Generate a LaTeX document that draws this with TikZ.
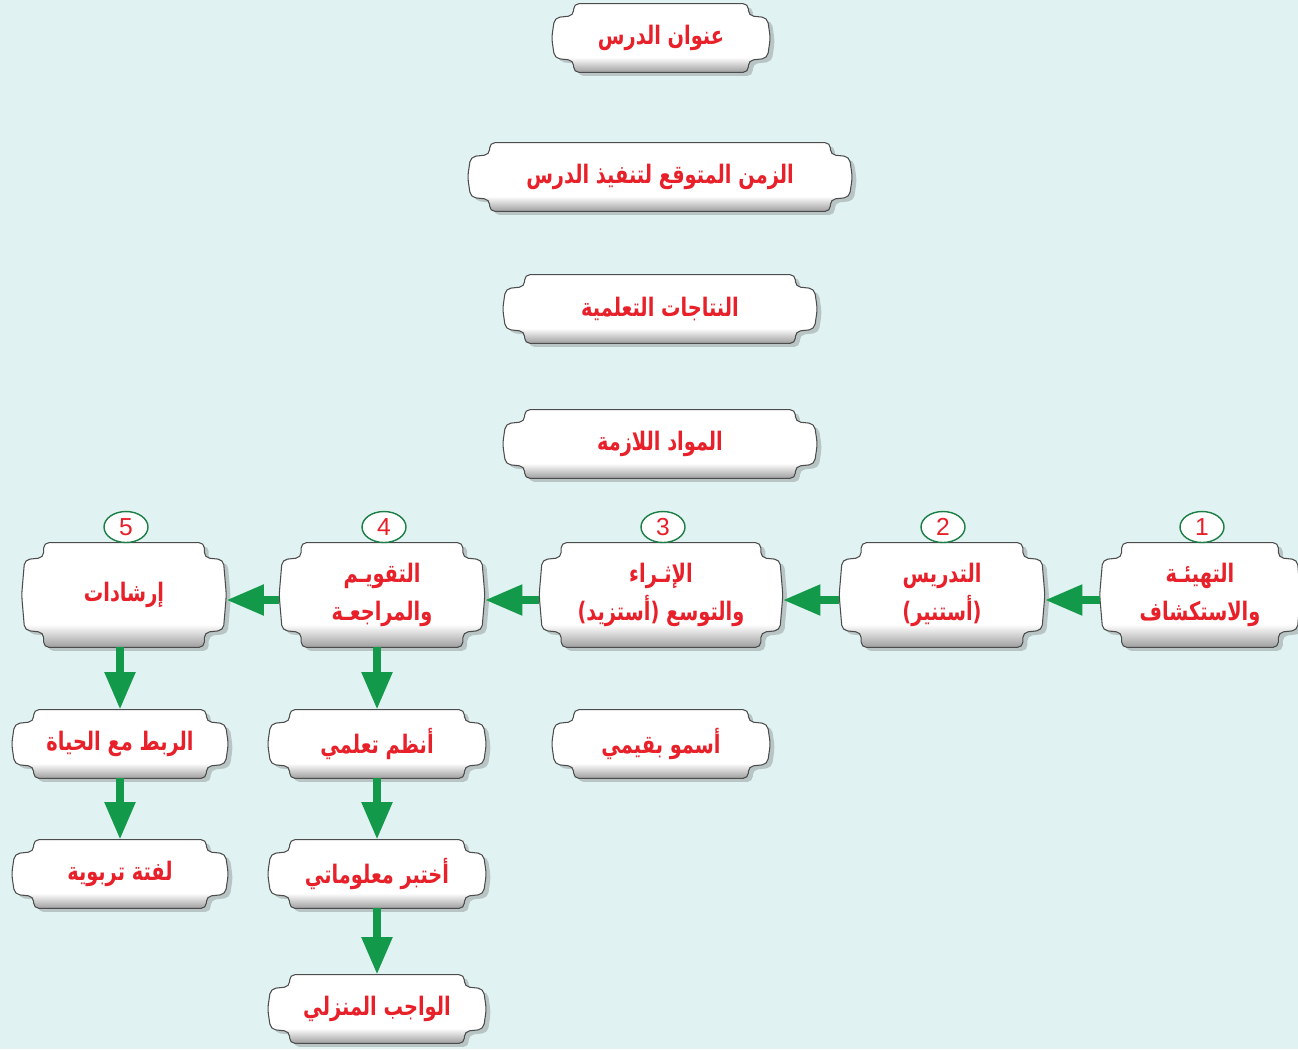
\documentclass[tikz,border=0pt]{standalone}
\usepackage{fontspec}
\usepackage{xcolor}
\usepackage{tikz}
\usetikzlibrary{shapes,arrows.meta,positioning,calc,shadows,backgrounds}
\newfontfamily\arabicfont[Script=Arabic,FakeStretch=0.76]{DejaVu Sans}
\newfontfamily\numfont{Liberation Sans}
\TeXXeTstate=1
\definecolor{bgcyan}{HTML}{E0F2F2}
\definecolor{txtred}{HTML}{E8202A}
\definecolor{flowgreen}{HTML}{12994A}
\definecolor{numgreen}{HTML}{1B7F45}
\pgfdeclareverticalshading{tabshade}{100bp}{color(0bp)=(black!38); color(25bp)=(black!38); color(36bp)=(white); color(100bp)=(white)}

\begin{document}
\begin{tikzpicture}[x=0.02cm,y=-0.02cm,
  boxtext/.style={font=\arabicfont\bfseries\fontsize{14.5}{22}\selectfont, text=txtred, align=center, inner sep=0pt},
  tab/.style={boxtext, minimum width=#1*0.02cm, minimum height=1.36cm},
  steptab/.style={boxtext, minimum width=#1*0.02cm, minimum height=2.08cm},
  num/.style={ellipse, draw=numgreen, fill=white, line width=0.8pt, minimum width=0.88cm, minimum height=0.62cm, inner sep=0pt, text=txtred, font=\numfont\fontsize{14}{14}\selectfont},
  flow/.style={draw=flowgreen, line width=0.16cm, -{Triangle[length=0.75cm,width=0.58cm]}},
  tabshape/.style={draw=gray!60!black, line width=0.6pt, rounded corners=3pt, shading=tabshade, drop shadow={shadow xshift=2.5pt, shadow yshift=-2pt, opacity=0.4}}]
\useasboundingbox (0,0) rectangle (1298,1049);

% top column
\node[tab=218] (t1) at (661,38) {\beginR عنوان الدرس\endR};
\node[tab=384] (t2) at (660,177) {\beginR الزمن المتوقع لتنفيذ الدرس\endR};
\node[tab=314] (t3) at (660,309) {\beginR النتاجات التعلمية\endR};
\node[tab=314] (t4) at (660,444) {\beginR المواد اللازمة\endR};

% steps, right to left
\node[steptab=200] (s1) at (1200,595) {\beginR التهيئـة\endR\\\beginR والاستكشاف\endR};
\node[steptab=205] (s2) at (942,595) {\beginR التدريس\endR\\\beginR (أستنير)\endR};
\node[steptab=243] (s3) at (661,595) {\beginR الإثـراء\endR\\\beginR والتوسع (أستزيد)\endR};
\node[steptab=205] (s4) at (382,595) {\beginR التقويـم\endR\\\beginR والمراجعـة\endR};
\node[steptab=204] (s5) at (124,595) {\beginR إرشادات\endR};

% numbers
\node[num] (n1) at (1202,527) {1};
\node[num] (n2) at (943,527) {2};
\node[num] (n3) at (663,527) {3};
\node[num] (n4) at (384,527) {4};
\node[num] (n5) at (126,527) {5};

% lower boxes
\node[tab=216] (r1) at (120,744) {\beginR الربط مع الحياة\endR};
\node[tab=216] (r2) at (120,874) {\beginR لفتة تربوية\endR};
\node[tab=218] (a1) at (377,744) {\beginR أنظم تعلمي\endR};
\node[tab=218] (a2) at (377,874) {\beginR أختبر معلوماتي\endR};
\node[tab=218] (a3) at (377,1009) {\beginR الواجب المنزلي\endR};
\node[tab=218] (v1) at (661,744) {\beginR أسمو بقيمي\endR};

\begin{scope}[on background layer]
\fill[bgcyan] (0,0) rectangle (1298,1049);
\foreach \n/\d in {t1/12,t2/12,t3/12,t4/12,s1/15,s2/15,s3/15,s4/15,s5/15,r1/12,r2/12,a1/12,a2/12,a3/12,v1/12}
  \path[tabshape] ($(\n.north west)+(22,0)$) -- ($(\n.north east)+(-22,0)$)
    -- ($(\n.north east)+(-22,\d)$) -- ($(\n.north east)+(-3,\d+2)$) -- (\n.east)
    -- ($(\n.south east)+(-3,-\d-2)$) -- ($(\n.south east)+(-22,-\d)$)
    -- ($(\n.south east)+(-22,0)$) -- ($(\n.south west)+(22,0)$)
    -- ($(\n.south west)+(22,-\d)$) -- ($(\n.south west)+(3,-\d-2)$) -- (\n.west)
    -- ($(\n.north west)+(3,\d+2)$) -- ($(\n.north west)+(22,\d)$) -- cycle;
\end{scope}

% arrows
\draw[flow] ([yshift=-0.1cm]s1.west) -- ([yshift=-0.1cm]s2.east);
\draw[flow] ([yshift=-0.1cm]s2.west) -- ([yshift=-0.1cm]s3.east);
\draw[flow] ([yshift=-0.1cm]s3.west) -- ([yshift=-0.1cm]s4.east);
\draw[flow] ([yshift=-0.1cm]s4.west) -- ([yshift=-0.1cm]s5.east);
\draw[flow] (r1.north |- s5.south) -- (r1.north);
\draw[flow] (r1.south) -- (r2.north);
\draw[flow] (a1.north |- s4.south) -- (a1.north);
\draw[flow] (a1.south) -- (a2.north);
\draw[flow] (a2.south) -- (a3.north);
\end{tikzpicture}
\end{document}
